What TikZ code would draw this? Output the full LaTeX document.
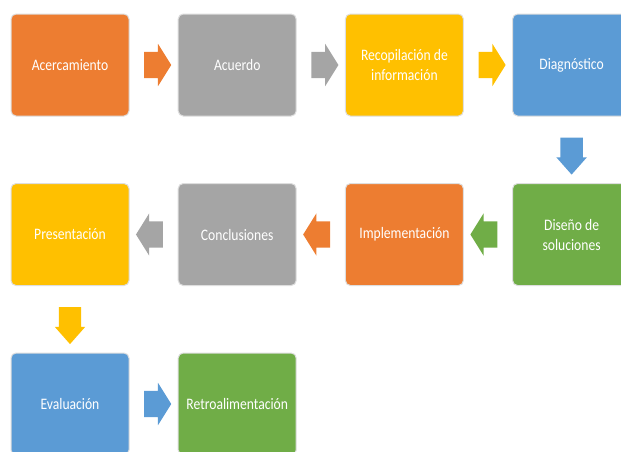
\documentclass[tikz,border=0pt]{standalone}
\usepackage{fontspec}
\setmainfont[FakeStretch=0.85]{Carlito}
\usetikzlibrary{positioning,calc,shapes.arrows}

\definecolor{naranja}{HTML}{ED7D31}
\definecolor{gris}{HTML}{A5A5A5}
\definecolor{amarillo}{HTML}{FFC000}
\definecolor{azul}{HTML}{5B9BD5}
\definecolor{verde}{HTML}{70AD47}

\tikzset{
    paso/.style={draw=black!13, line width=1pt, rounded corners=5pt, fill=#1,
        minimum width=118pt, minimum height=102pt, text=white, align=center,
        font=\fontsize{16}{20}\selectfont},
    flecha/.style={single arrow, draw=none, fill=#1, inner xsep=0pt, inner ysep=13pt,
        minimum height=27pt, single arrow head extend=8pt, single arrow tip angle=116},
    flechaabajo/.style={single arrow, draw=none, fill=#1, inner xsep=0pt, inner ysep=11pt,
        minimum height=37pt, rotate=-90,
        single arrow head extend=4pt, single arrow tip angle=83}
}

\begin{document}
\begin{tikzpicture}[node distance=66.5pt and 48.2pt]

    \useasboundingbox (0,0) rectangle (621pt,-451pt);
    \clip (0,0) rectangle (621pt,-451pt);

    % Pasos
    \node (acercamiento) [paso=naranja] at (70pt,-65pt) {Acercamiento};
    \node (acuerdo) [paso=gris, right=of acercamiento] {Acuerdo};
    \node (recopilacion) [paso=amarillo, right=of acuerdo] {Recopilación de\\información};
    \node (diagnostico) [paso=azul, right=of recopilacion] {Diagnóstico};
    \node (diseno) [paso=verde, below=of diagnostico] {Diseño de\\soluciones};
    \node (implementacion) [paso=naranja, left=of diseno] {Implementación};
    \node (conclusiones) [paso=gris, left=of implementacion] {Conclusiones};
    \node (presentacion) [paso=amarillo, left=of conclusiones] {Presentación};
    \node (evaluacion) [paso=azul, below=of presentacion] {Evaluación};
    \node (retro) [paso=verde, right=of evaluacion] {Retroalimentación};

    % Flechas
    \node (f1) [flecha=naranja] at ($(acercamiento.east)!0.5!(acuerdo.west)$) {};
    \node (f2) [flecha=gris] at ($(acuerdo.east)!0.5!(recopilacion.west)$) {};
    \node (f3) [flecha=amarillo] at ($(recopilacion.east)!0.5!(diagnostico.west)$) {};
    \node (f4) [flechaabajo=azul] at ($(diagnostico.south)!0.5!(diseno.north)$) {};
    \node (f5) [flecha=verde, rotate=180] at ($(diseno.west)!0.5!(implementacion.east)$) {};
    \node (f6) [flecha=naranja, rotate=180] at ($(implementacion.west)!0.5!(conclusiones.east)$) {};
    \node (f7) [flecha=gris, rotate=180] at ($(conclusiones.west)!0.5!(presentacion.east)$) {};
    \node (f8) [flechaabajo=amarillo] at ($(presentacion.south)!0.5!(evaluacion.north)$) {};
    \node (f9) [flecha=azul] at ($(evaluacion.east)!0.5!(retro.west)$) {};

\end{tikzpicture}
\end{document}
